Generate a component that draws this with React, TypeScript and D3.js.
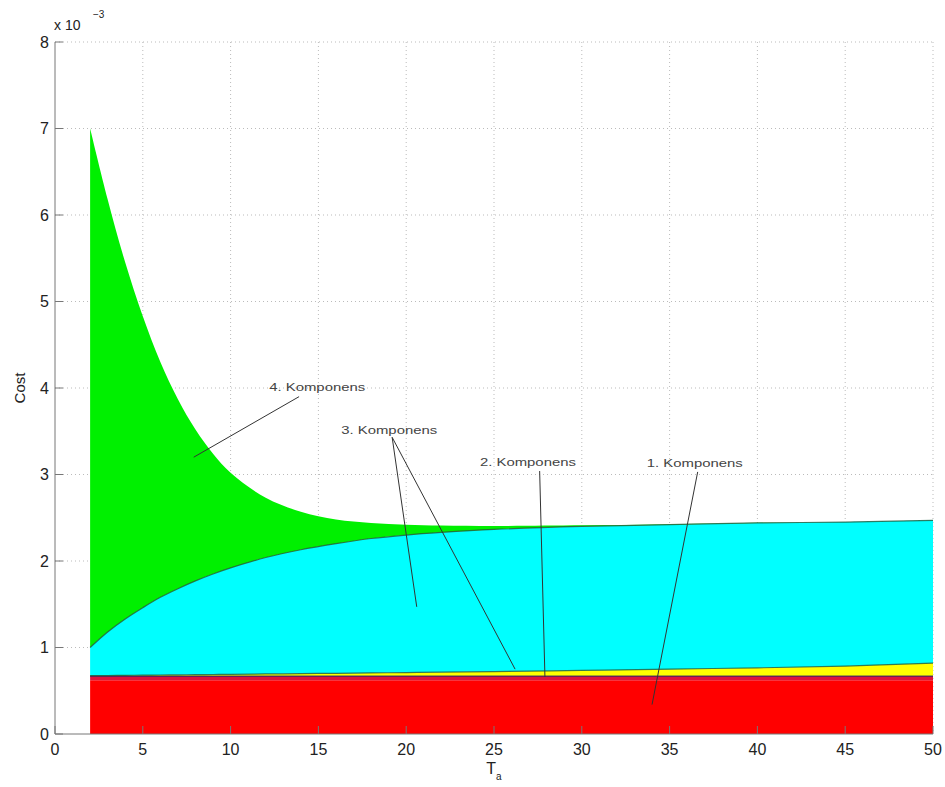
import React from 'react'
import * as d3 from 'd3'

// Ta values where the components were sampled
const ta = [2, 3, 4, 5, 6, 7, 8, 9, 10, 12, 14, 16, 18, 20, 22, 25, 30, 35, 40, 45, 50]

// cost of each component (x 10^-3), stacked bottom to top
const comp1 = [0.62, 0.62, 0.62, 0.62, 0.62, 0.62, 0.62, 0.62, 0.62, 0.62, 0.62, 0.62, 0.62, 0.62, 0.62, 0.62, 0.62, 0.62, 0.62, 0.62, 0.62]
const comp1b = [0.05, 0.05, 0.05, 0.05, 0.05, 0.05, 0.05, 0.05, 0.05, 0.05, 0.05, 0.05, 0.05, 0.05, 0.05, 0.05, 0.05, 0.05, 0.05, 0.05, 0.05]
const comp2 = [0.005, 0.006, 0.008, 0.01, 0.012, 0.014, 0.016, 0.018, 0.02, 0.024, 0.028, 0.032, 0.036, 0.04, 0.045, 0.052, 0.065, 0.08, 0.095, 0.115, 0.15]
const comp3 = [0.325, 0.504, 0.652, 0.78, 0.898, 0.996, 1.084, 1.162, 1.23, 1.346, 1.432, 1.498, 1.554, 1.59, 1.615, 1.643, 1.665, 1.67, 1.675, 1.665, 1.65]
const comp4 = [6.0, 5.0, 4.12, 3.37, 2.72, 2.19, 1.75, 1.39, 1.1, 0.69, 0.44, 0.28, 0.18, 0.12, 0.08, 0.04, 0.012, 0.006, 0.003, 0.002, 0.002]

const layerKeys = ['c1', 'c1b', 'c2', 'c3', 'c4']
const layerColors = ['#ff0000', '#dc143c', '#ffff00', '#00ffff', '#00f000']
const edgeColors = [null, '#22226a', '#1d5a3a', '#1d5a3a', null]

const xTicks = [0, 5, 10, 15, 20, 25, 30, 35, 40, 45, 50]
const yTicks = [0, 1, 2, 3, 4, 5, 6, 7, 8]

// annotations: label position and arrow targets, in data units
const notes = [
  { label: '4. Komponens', tx: 12.2, ty: 3.96, from: [13.9, 3.9], to: [[7.9, 3.2]] },
  { label: '3. Komponens', tx: 16.3, ty: 3.47, from: [19.2, 3.43], to: [[20.6, 1.47], [26.2, 0.75]] },
  { label: '2. Komponens', tx: 24.2, ty: 3.1, from: [27.6, 3.04], to: [[27.9, 0.66]] },
  { label: '1. Komponens', tx: 33.7, ty: 3.09, from: [36.6, 3.03], to: [[34.0, 0.34]] },
]

const width = 945
const height = 787
const margin = { top: 42, right: 12, bottom: 53, left: 55 }

export default function App() {
  const innerW = width - margin.left - margin.right
  const innerH = height - margin.top - margin.bottom
  const x = d3.scaleLinear().domain([0, 50]).range([0, innerW])
  const y = d3.scaleLinear().domain([0, 8]).range([innerH, 0])

  const rows = ta.map((t, i) => ({ t, c1: comp1[i], c1b: comp1b[i], c2: comp2[i], c3: comp3[i], c4: comp4[i] }))
  const series = d3.stack<any>().keys(layerKeys)(rows)

  const curve = d3.curveCatmullRom.alpha(0.5)
  const area = d3.area<any>()
    .x(d => x(d.data.t))
    .y0(d => y(d[0]))
    .y1(d => y(d[1]))
    .curve(curve)
  const topLine = d3.line<any>()
    .x(d => x(d.data.t))
    .y(d => y(d[1]))
    .curve(curve)

  const font = 'Liberation Sans, Arial, Helvetica, sans-serif'

  return (
    <svg width={width} height={height} style={{ position: 'absolute', left: 0, top: 0, background: '#fff' }}>
      <g transform={`translate(${margin.left},${margin.top})`} fontFamily={font}>
        {xTicks.filter(t => t > 0).map(t => (
          <line key={'gx' + t} x1={x(t)} x2={x(t)} y1={0} y2={innerH} stroke="#bbb" strokeDasharray="1,3" />
        ))}
        {yTicks.filter(t => t > 0).map(t => (
          <line key={'gy' + t} x1={0} x2={innerW} y1={y(t)} y2={y(t)} stroke="#bbb" strokeDasharray="1,3" />
        ))}
        {series.map((s, i) => (
          <path key={s.key} d={area(s) || ''} fill={layerColors[i]} />
        ))}
        {series.map((s, i) => edgeColors[i] ? (
          <path key={'e' + s.key} d={topLine(s) || ''} fill="none" stroke={edgeColors[i]} strokeWidth={1.2} strokeOpacity={0.8} />
        ) : null)}
        {/* axes */}
        <line x1={0} x2={0} y1={0} y2={innerH} stroke="#777" />
        <line x1={0} x2={innerW} y1={innerH} y2={innerH} stroke="#777" />
        {yTicks.map(t => (
          <g key={'ty' + t} transform={`translate(0,${y(t)})`}>
            <line x1={0} x2={8} stroke="#777" />
            <text x={-6} dy="0.36em" textAnchor="end" fontSize={16} fill="#222">{t}</text>
          </g>
        ))}
        {xTicks.map(t => (
          <g key={'tx' + t} transform={`translate(${x(t)},${innerH})`}>
            <line y1={0} y2={-8} stroke="#777" />
            <text y={21} textAnchor="middle" fontSize={16} fill="#222">{t}</text>
          </g>
        ))}
        <text x={-1} y={-12} fontSize={14} fill="#222">x 10</text>
        <text x={38} y={-24} fontSize={10} fill="#222">−3</text>
        <text transform={`translate(-30,${innerH / 2}) rotate(-90)`} textAnchor="middle" fontSize={15} fill="#222">Cost</text>
        <text x={x(25)} y={innerH + 40} textAnchor="middle" fontSize={16} fill="#222">T<tspan fontSize={10} dy={6}>a</tspan></text>
        {/* annotations */}
        {notes.map(n => (
          <g key={n.label}>
            {n.to.map((p, j) => (
              <line key={j} x1={x(n.from[0])} y1={y(n.from[1])} x2={x(p[0])} y2={y(p[1])} stroke="#333" strokeWidth={1} />
            ))}
            <text x={x(n.tx)} y={y(n.ty)} fontSize={11} fill="#444" textLength={96} lengthAdjust="spacingAndGlyphs">{n.label}</text>
          </g>
        ))}
      </g>
    </svg>
  )
}
